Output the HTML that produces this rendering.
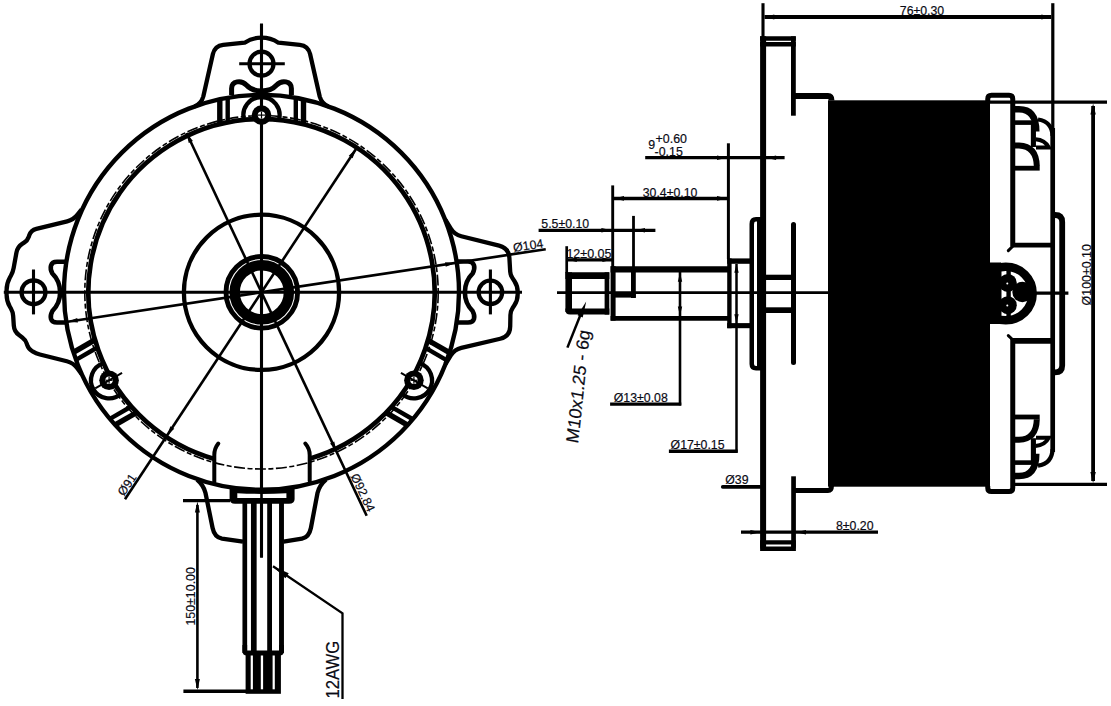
<!DOCTYPE html>
<html lang="en">
<head>
<meta charset="utf-8">
<title>Motor outline drawing</title>
<style>
html,body{margin:0;padding:0;background:#fff;}
body{width:1111px;height:706px;overflow:hidden;}
svg{display:block;}
svg text{font-family:"Liberation Sans",sans-serif;fill:#0a0a14;stroke:#0a0a14;stroke-width:0.18px;}
</style>
</head>
<body>
<svg width="1111" height="706" viewBox="0 0 1111 706" fill="none" stroke="#000">
<rect x="0" y="0" width="1111" height="706" fill="#fff" stroke="none"/>
<g id="front">
<circle cx="261.5" cy="292.3" r="197.5" stroke-width="4.4" fill="none"/>
<circle cx="261.5" cy="292.3" r="176.7" stroke-width="1.6" stroke-dasharray="11 2.5 5 2.5"/>
<path d="M214.3,458.94 A173.2,173.2 0 1 1 309.7,458.66" stroke-width="4.7" fill="none" />
<circle cx="261.5" cy="292.3" r="77.6" stroke-width="4.3" fill="none"/>
<circle cx="261.8" cy="292.3" r="35.8" stroke-width="4.9" fill="none"/>
<circle cx="261.8" cy="292.3" r="27.1" stroke-width="10.4" fill="none"/>
<line x1="3.8" y1="292.3" x2="522" y2="292.3" stroke-width="3.1"/>
<line x1="261.5" y1="23.6" x2="261.5" y2="557.6" stroke-width="3.1"/>
<path d="M244,119.71 A18.1,18.1 0 1 1 279,119.71" stroke-width="4.3" fill="none" />
<circle cx="261.5" cy="115.1" r="9.8" fill="#000" stroke="none"/>
<circle cx="261.5" cy="115.1" r="3.7" fill="#fff" stroke="none"/>
<line x1="258" y1="115.1" x2="265" y2="115.1" stroke-width="1.2"/>
<line x1="261.5" y1="111.6" x2="261.5" y2="118.6" stroke-width="1.2"/>
<line x1="219.8" y1="124.19" x2="219.8" y2="99.25" stroke-width="5.4"/>
<line x1="227.7" y1="122.43" x2="227.7" y2="97.71" stroke-width="4.4"/>
<line x1="295.8" y1="122.53" x2="295.8" y2="97.8" stroke-width="4.4"/>
<line x1="303.5" y1="124.27" x2="303.5" y2="99.32" stroke-width="5.4"/>
<path d="M120.93,393.98 A18.1,18.1 0 1 1 103.16,363.2" stroke-width="4.3" fill="none" />
<circle cx="109.08" cy="380.3" r="9.8" fill="#000" stroke="none"/>
<circle cx="109.08" cy="380.3" r="3.7" fill="#fff" stroke="none"/>
<line x1="105.58" y1="380.3" x2="112.58" y2="380.3" stroke-width="1.2"/>
<line x1="109.08" y1="376.8" x2="109.08" y2="383.8" stroke-width="1.2"/>
<line x1="122.07" y1="372.8" x2="95.22" y2="388.3" stroke-width="2"/>
<line x1="136.77" y1="412.47" x2="115.17" y2="424.94" stroke-width="5.4"/>
<line x1="131.29" y1="406.51" x2="109.88" y2="418.86" stroke-width="4.4"/>
<line x1="97.33" y1="347.48" x2="75.91" y2="359.84" stroke-width="4.4"/>
<line x1="94.98" y1="339.94" x2="73.37" y2="352.42" stroke-width="5.4"/>
<path d="M419.84,363.2 A18.1,18.1 0 1 1 402.07,393.98" stroke-width="4.3" fill="none" />
<circle cx="413.92" cy="380.3" r="9.8" fill="#000" stroke="none"/>
<circle cx="413.92" cy="380.3" r="3.7" fill="#fff" stroke="none"/>
<line x1="410.42" y1="380.3" x2="417.42" y2="380.3" stroke-width="1.2"/>
<line x1="413.92" y1="376.8" x2="413.92" y2="383.8" stroke-width="1.2"/>
<line x1="400.93" y1="372.8" x2="427.78" y2="388.3" stroke-width="2"/>
<line x1="427.93" y1="340.24" x2="449.53" y2="352.71" stroke-width="5.4"/>
<line x1="425.51" y1="347.96" x2="446.92" y2="360.32" stroke-width="4.4"/>
<line x1="391.37" y1="406.89" x2="412.79" y2="419.25" stroke-width="4.4"/>
<line x1="386.02" y1="412.69" x2="407.63" y2="425.16" stroke-width="5.4"/>
<line x1="124.98" y1="499.34" x2="356.18" y2="148.71" stroke-width="2.6"/>
<polygon points="356.18,148.71 352.6,158.32 348.76,155.79" fill="#000" stroke="none"/>
<polygon points="166.82,435.89 170.4,426.28 174.24,428.81" fill="#000" stroke="none"/>
<line x1="186.56" y1="133.05" x2="366.67" y2="515.79" stroke-width="2.6"/>
<polygon points="336.44,451.55 330.1,443.48 334.26,441.52" fill="#000" stroke="none"/>
<polygon points="186.56,133.05 192.9,141.12 188.74,143.08" fill="#000" stroke="none"/>
<line x1="67.71" y1="321.68" x2="545.75" y2="249.21" stroke-width="2.6"/>
<polygon points="455.29,262.92 445.74,266.7 445.05,262.15" fill="#000" stroke="none"/>
<polygon points="67.71,321.68 77.26,317.9 77.95,322.45" fill="#000" stroke="none"/>
<path d="M194.6,106.5 Q201.4,103.4 203.3,96.5 L212.9,54 Q214.9,45.7 223.2,44.8 L244.6,42.7 A31,31 0 0 1 278.4,42.7 L299.8,44.8 Q308.1,45.7 310.1,54 L319.7,96.5 Q321.6,103.4 328.4,106.5" stroke-width="4.3" fill="none" stroke-linejoin="round"/>
<path d="M231.6,95 L231.6,88.5 C231.6,80.8 241.3,79.6 246.3,85 C250.8,89.9 256,91 261.5,91 C267,91 272.2,89.9 276.7,85 C281.7,79.6 291.4,80.8 291.4,88.5 L291.4,95" stroke-width="5" fill="none" />
<circle cx="261.5" cy="63.7" r="12" stroke-width="4.2" fill="none"/>
<line x1="239.2" y1="63.7" x2="284.8" y2="63.7" stroke-width="3.1"/>
<path d="M81.5,209.5 L77.5,214.65 Q73.5,219.8 67.16,221.34 L36.33,228.81 Q31,230.1 29.25,235.3 L28.78,236.71 Q27.5,240.5 24.12,242.63 L22.5,243.65 Q17.5,246.8 16.44,252.61 L13.62,268.07 Q12.9,272 10.98,275.51 L9.75,277.75 Q6.6,283.5 6.6,290.06 L6.6,294.66 Q6.6,301 9.75,306.5 L10.91,308.53 Q12.9,312 13.17,315.99 L13.8,325.51 Q14.2,331.5 19.04,335.05 L22.28,337.43 Q25.5,339.8 26.74,343.6 L27.14,344.84 Q28.5,349 32.25,351.25 L32.57,351.44 Q36,353.5 39.88,354.47 L66.86,361.24 Q73.5,362.9 77.5,368.45 L81.5,374" stroke-width="4.3" fill="none" stroke-linejoin="round"/>
<path d="M66,261.8 L57,261.8 C50,261.8 49.5,268 52.3,273.4 A26.7,26.7 0 0 1 52.3,311.2 C49.5,316.5 50,322.5 57,322.5 L66,322.5" stroke-width="4.6" fill="none" />
<circle cx="33.5" cy="292.3" r="12" stroke-width="4.2" fill="none"/>
<line x1="33.5" y1="269.5" x2="33.5" y2="314.4" stroke-width="3.1"/>
<path d="M445.5,220 L450.83,228.64 Q454.5,234.6 461.3,236.28 L499.09,245.6 Q508.8,248 509.39,257.98 L510.19,271.51 Q510.4,275 512.34,277.92 L514.38,281 Q517.7,286 517.7,292 L517.7,294.13 Q517.7,300.5 514.1,305.75 L512.76,307.7 Q510.5,311 510.42,315 L510.2,326.5 Q510,336.5 500.26,338.78 L461.32,347.9 Q454.5,349.5 450.81,355.45 L445.5,364" stroke-width="4.3" fill="none" stroke-linejoin="round"/>
<path d="M457,261.5 L468,261.5 C475,261.5 475.5,268 472.7,273.4 A26.7,26.7 0 0 0 472.7,311.2 C475.5,316.5 475,322.5 468,322.5 L457,322.5" stroke-width="4.6" fill="none" />
<circle cx="490.4" cy="292.3" r="11.8" stroke-width="4.2" fill="none"/>
<line x1="490.4" y1="269.5" x2="490.4" y2="314.4" stroke-width="3.1"/>
<path d="M218.3,443.5 Q214.3,448.5 214.3,455 L214.3,482" stroke-width="4" fill="none" stroke-linecap="round"/>
<path d="M305.3,443.5 Q309.7,448.5 309.7,455 L309.7,481" stroke-width="4" fill="none" stroke-linecap="round"/>
<path d="M197,479.5 Q203.5,485 205.5,493 L212.6,528 Q214.5,537.3 222,538.6 L243,541.7" stroke-width="4.3" fill="none" />
<path d="M326,479.5 Q319.5,485 317.5,493 L310.9,528 Q309,537.3 302,538.6 L283.5,541.7" stroke-width="4.3" fill="none" />
<path d="M229.6,489 L294.6,489 L294.6,499 Q294.6,503.7 289,503.7 L235,503.7 Q229.6,503.7 229.6,499 Z" stroke-width="0" fill="#000" stroke="none"/>
<path d="M237.3,493.2 Q261.5,494.6 286.4,493.2 L286.4,498 L237.3,498 Z" stroke-width="0" fill="#fff" stroke="none"/>
<line x1="261.5" y1="488" x2="261.5" y2="557.6" stroke-width="2.6"/>
<line x1="244.8" y1="503" x2="244.8" y2="653" stroke-width="4.7"/>
<line x1="253.8" y1="503" x2="253.8" y2="653" stroke-width="5.7"/>
<line x1="269.6" y1="503" x2="269.6" y2="653" stroke-width="4.8"/>
<line x1="281.5" y1="503" x2="281.5" y2="653" stroke-width="4.9"/>
<path d="M242.45,645 L242.45,651 Q242.45,655.5 247,655.5 L279.4,655.5 Q283.95,655.5 283.95,651 L283.95,645 L279.05,645 L279.05,650.4 L247.15,650.4 L247.15,645 Z" stroke-width="0" fill="#000" stroke="none"/>
<rect x="245.6" y="655" width="35.3" height="38.8" fill="#000" stroke="none"/>
<rect x="250.7" y="655.5" width="2.2" height="33.8" fill="#fff" stroke="none"/>
<rect x="260.8" y="655.5" width="2.3" height="33.8" fill="#fff" stroke="none"/>
<rect x="272.6" y="655.5" width="2.2" height="33.8" fill="#fff" stroke="none"/>
<line x1="183" y1="500.6" x2="230" y2="500.6" stroke-width="3.4"/>
<line x1="183.4" y1="691.2" x2="246" y2="691.2" stroke-width="3.6"/>
<line x1="197.4" y1="505" x2="197.4" y2="688" stroke-width="2.6"/>
<polygon points="197.4,501.5 199.9,512.5 194.9,512.5" fill="#000" stroke="none"/>
<polygon points="197.4,690 194.9,679 199.9,679" fill="#000" stroke="none"/>
<text transform="translate(195.4 625.6) rotate(-90)" font-size="12.4" >150±10.00</text>
<path d="M273,566.2 L342.5,613.3 L342.5,699" stroke-width="2.3" fill="none" />
<polygon points="273,566.2 288.76,573.25 285.39,578.22" fill="#000" stroke="none"/>
<text transform="translate(339.3 698.4) rotate(-90)" font-size="18.4" textLength="57.5" lengthAdjust="spacingAndGlyphs">12AWG</text>
<text transform="translate(124.08 496.68) rotate(-56.6)" font-size="12.4" >Ø91</text>
<text transform="translate(350.35 475.95) rotate(64.8)" font-size="12.4" >Ø92.84</text>
<text transform="translate(513.81 252.03) rotate(-8.62)" font-size="12.4" >Ø104</text>
</g>
<g id="side">
<line x1="557" y1="292.7" x2="830" y2="292.7" stroke-width="2.8"/>
<line x1="1030" y1="293.2" x2="1068.4" y2="293.2" stroke-width="3.2"/>
<line x1="568.7" y1="272.3" x2="568.7" y2="312" stroke-width="6.6"/>
<line x1="565.4" y1="275.65" x2="609.3" y2="275.65" stroke-width="6.7"/>
<line x1="606.95" y1="272.3" x2="606.95" y2="314.6" stroke-width="4.7"/>
<path d="M565.4,308.4 L565.4,310 Q565.4,314.6 570,314.6 L609.3,314.6 L609.3,308.4 Z" stroke-width="0" fill="#000" stroke="none"/>
<line x1="613.1" y1="266.2" x2="613.1" y2="320.65" stroke-width="5"/>
<line x1="610.6" y1="269.4" x2="729" y2="269.4" stroke-width="6.4"/>
<line x1="610.6" y1="318.3" x2="729" y2="318.3" stroke-width="4.7"/>
<line x1="633.4" y1="272" x2="633.4" y2="298" stroke-width="4.8"/>
<line x1="615" y1="295" x2="635.8" y2="295" stroke-width="5.2"/>
<line x1="729.4" y1="258.4" x2="729.4" y2="328.2" stroke-width="4.4"/>
<line x1="727.2" y1="261.1" x2="751" y2="261.1" stroke-width="5.4"/>
<line x1="727.2" y1="325.65" x2="751" y2="325.65" stroke-width="5.1"/>
<path d="M761,219.3 L756,219.3 Q751.75,219.3 751.75,224 L751.75,364 Q751.75,368.2 756,368.2 L761,368.2" stroke-width="4.5" fill="none" />
<rect x="757" y="221" width="4" height="145.5" fill="#000" stroke="none"/>
<line x1="763.1" y1="36.3" x2="763.1" y2="551" stroke-width="6"/>
<line x1="760.1" y1="38.55" x2="795.8" y2="38.55" stroke-width="4.5"/>
<line x1="760.1" y1="44.25" x2="795.8" y2="44.25" stroke-width="4.5"/>
<line x1="793.4" y1="36.3" x2="793.4" y2="115.7" stroke-width="4.8"/>
<path d="M795,95.95 L828,95.95 Q831.5,95.95 831.5,100.5" stroke-width="5.9" fill="none" />
<rect x="828" y="100.3" width="162" height="386.4" fill="#000" stroke="none"/>
<rect x="990" y="262.5" width="11" height="61.5" fill="#000" stroke="none"/>
<line x1="793.5" y1="224.6" x2="793.5" y2="362.4" stroke-width="5" stroke-linecap="round"/>
<line x1="766" y1="277.35" x2="791" y2="277.35" stroke-width="5.3"/>
<line x1="766" y1="310.15" x2="791" y2="310.15" stroke-width="5.7"/>
<line x1="793.55" y1="476.3" x2="793.55" y2="551" stroke-width="4.7"/>
<path d="M795,490.55 L828,490.55 Q831.5,490.55 831.5,486" stroke-width="4.9" fill="none" />
<path d="M760.1,540.2 L795.9,540.2 L795.9,546 Q795.9,551 791,551 L765,551 Q760.1,551 760.1,546 Z M766,544.6 L791.2,544.6 L791.2,546.5 L766,546.5 Z" stroke-width="0" fill="#000" stroke="none" fill-rule="evenodd"/>
<path d="M987.75,101 L987.75,99 Q987.75,95.35 991.5,95.35 L1009,95.35 Q1012.75,95.35 1012.75,99 L1012.75,246.6" stroke-width="5" fill="none" />
<path d="M987.75,486 L987.75,488 Q987.75,491.5 991.5,491.5 L1009,491.5 Q1012.75,491.5 1012.75,488 L1012.75,338" stroke-width="5" fill="none" />
<line x1="1012" y1="245.15" x2="1052" y2="245.15" stroke-width="4.9"/>
<line x1="1012" y1="340.9" x2="1052" y2="340.9" stroke-width="5.8"/>
<line x1="1013" y1="246" x2="1008.3" y2="250.6" stroke-width="3" stroke-linecap="round"/>
<line x1="1013" y1="340" x2="1008.3" y2="335.6" stroke-width="3" stroke-linecap="round"/>
<line x1="1052.8" y1="3.2" x2="1052.8" y2="132" stroke-width="3.2"/>
<line x1="1052.7" y1="128" x2="1052.7" y2="452" stroke-width="4.7"/>
<path d="M1055,215 Q1062.2,215 1062.2,222 L1062.2,365.5 Q1062.2,372.4 1055,372.4" stroke-width="5.8" fill="none" />
<circle cx="1005.8" cy="293.5" r="26.8" stroke-width="8.6" fill="none"/>
<line x1="1008.6" y1="266" x2="1008.6" y2="321" stroke-width="4.4"/>
<rect x="990" y="263" width="11.5" height="60.5" fill="#000" stroke="none"/>
<circle cx="1007.8" cy="282.9" r="9" fill="#000" stroke="none"/>
<circle cx="1007.8" cy="305.2" r="9" fill="#000" stroke="none"/>
<circle cx="1022.5" cy="292" r="10.2" fill="#000" stroke="none"/>
<circle cx="1007.3" cy="283.6" r="1" fill="#fff" stroke="none"/>
<circle cx="1007.3" cy="305.4" r="1" fill="#fff" stroke="none"/>
<path d="M1015,109.2 L1019,109.2 Q1036.3,109.2 1036.3,131.5" stroke-width="6.4" fill="none" />
<line x1="1015" y1="122.6" x2="1034" y2="122.6" stroke-width="4.6"/>
<line x1="1033.4" y1="121.6" x2="1033.4" y2="147" stroke-width="5.1"/>
<path d="M1038,119.5 Q1052,121.5 1052.6,136" stroke-width="4.2" fill="none" />
<path d="M1035.5,139.2 Q1045,139.8 1048.8,147.5 L1036,147.5" stroke-width="4" fill="none" />
<path d="M1015,145.4 L1019,145.4 Q1036.3,146 1036.8,166" stroke-width="6" fill="none" />
<line x1="1015" y1="168.2" x2="1039.7" y2="168.2" stroke-width="4.8"/>
<path d="M1015,476 L1019,476 Q1036.3,476 1036.3,453.7" stroke-width="6.4" fill="none" />
<line x1="1015" y1="462.6" x2="1034" y2="462.6" stroke-width="4.6"/>
<line x1="1033.4" y1="463.6" x2="1033.4" y2="438.2" stroke-width="5.1"/>
<path d="M1038,465.7 Q1052,463.7 1052.6,449.2" stroke-width="4.2" fill="none" />
<path d="M1035.5,446 Q1045,445.4 1048.8,437.7 L1036,437.7" stroke-width="4" fill="none" />
<path d="M1015,439.8 L1019,439.8 Q1036.3,439.2 1036.8,419.2" stroke-width="6" fill="none" />
<line x1="1015" y1="417" x2="1039.7" y2="417" stroke-width="4.8"/>
<line x1="763" y1="3.2" x2="763" y2="37" stroke-width="3.1"/>
<line x1="764.5" y1="17" x2="1051.3" y2="17" stroke-width="4.1"/>
<polygon points="764.3,17 774.3,14.5 774.3,19.5" fill="#000" stroke="none"/>
<polygon points="1051.4,17 1041.4,19.5 1041.4,14.5" fill="#000" stroke="none"/>
<text transform="translate(899.8 15.2) rotate(0)" font-size="12.3" >76±0.30</text>
<line x1="989" y1="102.2" x2="1107" y2="102.2" stroke-width="3.2"/>
<line x1="1013" y1="484.4" x2="1107" y2="484.4" stroke-width="3.1"/>
<line x1="1093.1" y1="106" x2="1093.1" y2="481" stroke-width="3.8"/>
<polygon points="1093.1,103.6 1095.8,114.6 1090.4,114.6" fill="#000" stroke="none"/>
<polygon points="1093.1,483 1090.4,472 1095.8,472" fill="#000" stroke="none"/>
<text transform="translate(1090.5 305.4) rotate(-90)" font-size="12.4" >Ø100±0.10</text>
<line x1="645.2" y1="157.7" x2="784.6" y2="157.7" stroke-width="3.3"/>
<line x1="728.4" y1="143.3" x2="728.4" y2="259" stroke-width="3"/>
<polygon points="727,157.7 717,160 717,155.4" fill="#000" stroke="none"/>
<polygon points="766.1,157.7 776.1,155.4 776.1,160" fill="#000" stroke="none"/>
<text transform="translate(648.2 148.8) rotate(0)" font-size="12.4" >9</text>
<text transform="translate(655.6 143.2) rotate(0)" font-size="12.4" >+0.60</text>
<text transform="translate(654.6 155.8) rotate(0)" font-size="12.4" >-0.15</text>
<line x1="612.7" y1="198.4" x2="728.4" y2="198.4" stroke-width="3.5"/>
<line x1="612.7" y1="185.4" x2="612.7" y2="267" stroke-width="2.9"/>
<polygon points="614,198.4 624,196.1 624,200.7" fill="#000" stroke="none"/>
<polygon points="727,198.4 717,200.7 717,196.1" fill="#000" stroke="none"/>
<text transform="translate(642.7 196.6) rotate(0)" font-size="12.3" >30.4±0.10</text>
<line x1="538.6" y1="230.3" x2="655.4" y2="230.3" stroke-width="3.3"/>
<line x1="633.5" y1="215.9" x2="633.5" y2="272" stroke-width="2.8"/>
<polygon points="611.4,230.3 601.4,232.6 601.4,228" fill="#000" stroke="none"/>
<polygon points="635,230.3 645,228 645,232.6" fill="#000" stroke="none"/>
<text transform="translate(541.3 227.5) rotate(0)" font-size="12.3" >5.5±0.10</text>
<line x1="566.7" y1="246.2" x2="566.7" y2="273" stroke-width="2.7"/>
<line x1="566.4" y1="259.8" x2="612.7" y2="259.8" stroke-width="3.3"/>
<polygon points="567.8,259.8 576.8,257.6 576.8,262" fill="#000" stroke="none"/>
<polygon points="611.4,259.8 602.4,262 602.4,257.6" fill="#000" stroke="none"/>
<text transform="translate(566.4 257.5) rotate(0)" font-size="12.5" >12±0.05</text>
<line x1="567.4" y1="347.6" x2="582" y2="311" stroke-width="2.5"/>
<polygon points="586.2,301.6 582.74,317.47 577.55,315.35" fill="#000" stroke="none"/>
<text transform="translate(578.1 444) rotate(-84) skewX(-5)" font-size="17.6" textLength="113.5" stroke-width="0.3" lengthAdjust="spacingAndGlyphs">M10x1.25 - 6g</text>
<line x1="680" y1="272" x2="680" y2="405.4" stroke-width="2.6"/>
<line x1="610.1" y1="404.1" x2="681.3" y2="404.1" stroke-width="3.3"/>
<polygon points="680,272.8 682.2,281.8 677.8,281.8" fill="#000" stroke="none"/>
<polygon points="680,315.6 677.8,306.6 682.2,306.6" fill="#000" stroke="none"/>
<text transform="translate(613.8 401.8) rotate(0)" font-size="12.3" >Ø13±0.08</text>
<line x1="736.5" y1="264" x2="736.5" y2="452.6" stroke-width="2.5"/>
<line x1="668.9" y1="451.2" x2="737.7" y2="451.2" stroke-width="3.4"/>
<polygon points="736.5,263.8 738.7,272.8 734.3,272.8" fill="#000" stroke="none"/>
<polygon points="736.5,323.2 734.3,314.2 738.7,314.2" fill="#000" stroke="none"/>
<text transform="translate(670.6 448.6) rotate(0)" font-size="12.3" >Ø17±0.15</text>
<line x1="722.7" y1="486.9" x2="760" y2="486.9" stroke-width="3.6" stroke-linecap="round"/>
<text transform="translate(725.3 484.2) rotate(0)" font-size="12.3" >Ø39</text>
<line x1="741" y1="532.2" x2="878" y2="532.2" stroke-width="3.3"/>
<polygon points="760.4,532.2 750.4,534.5 750.4,529.9" fill="#000" stroke="none"/>
<polygon points="796,532.2 806,529.9 806,534.5" fill="#000" stroke="none"/>
<text transform="translate(836 530.2) rotate(0)" font-size="12.3" >8±0.20</text>
</g>
</svg>
</body>
</html>
